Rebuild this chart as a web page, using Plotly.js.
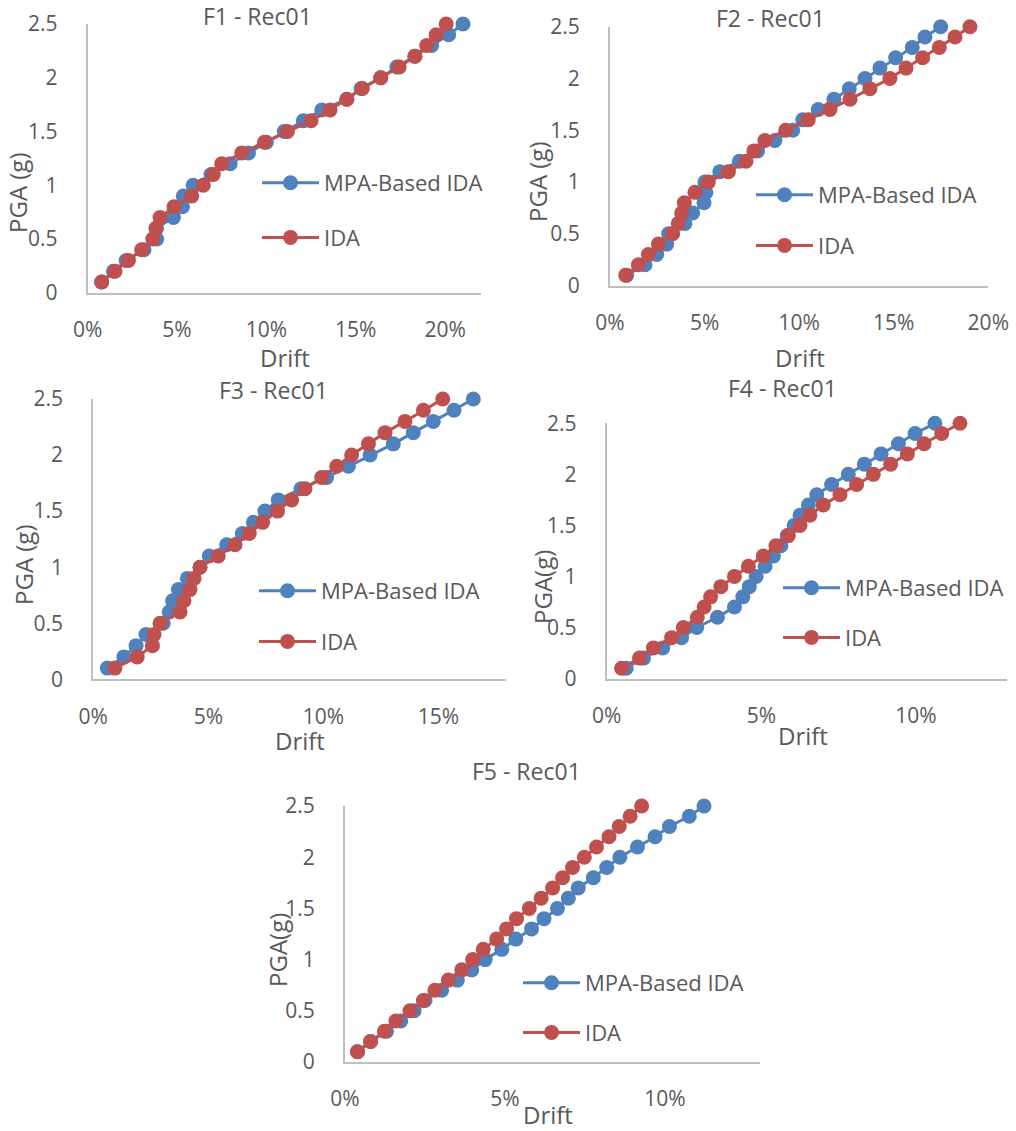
<!DOCTYPE html>
<html>
<head>
<meta charset="utf-8">
<script src="https://cdn.plot.ly/plotly-3.0.1.min.js"></script>
<style>html,body{margin:0;padding:0;background:#fff;}#chart{width:1016px;height:1131px;}</style>
</head>
<body>
<div id="chart"></div>
<script>
// PGA levels (g)
const pga = [0.1,0.2,0.3,0.4,0.5,0.6,0.7,0.8,0.9,1.0,1.1,1.2,1.3,1.4,1.5,1.6,1.7,1.8,1.9,2.0,2.1,2.2,2.3,2.4,2.5];

// Drift (%) per frame
const f1Mpa = [0.78,1.44,2.15,3.15,3.86,3.85,4.8,5.3,5.35,5.9,6.9,7.97,9.0,10.0,11.0,12.07,13.1,14.5,15.3,16.4,17.3,18.3,19.25,20.2,21.0];
const f1Ida = [0.78,1.53,2.28,3.02,3.64,3.82,4.05,4.83,5.82,6.47,7.03,7.5,8.62,9.89,11.18,12.5,13.56,14.5,15.37,16.4,17.43,18.32,18.97,19.5,20.06];

const f2Mpa = [0.88,1.85,2.47,3.0,3.1,3.96,4.37,4.97,5.07,5.02,5.81,6.84,7.8,8.72,9.66,10.19,11.01,11.84,12.65,13.48,14.27,15.1,15.98,16.65,17.48];
const f2Ida = [0.83,1.5,2.03,2.56,3.31,3.61,3.79,3.93,4.49,5.2,6.26,7.19,7.61,8.19,9.29,10.48,11.63,12.69,13.74,14.8,15.65,16.53,17.41,18.24,19.03];

const f3Mpa = [0.61,1.33,1.86,2.29,3.04,3.3,3.45,3.7,4.09,4.64,5.04,5.8,6.48,6.96,7.46,8.04,9.03,10.14,11.09,12.03,13.04,13.91,14.78,15.68,16.52];
const f3Ida = [0.94,1.91,2.57,2.64,2.9,3.77,3.94,4.2,4.38,4.64,5.43,6.16,6.78,7.36,8.01,8.62,9.2,9.93,10.58,11.23,11.96,12.68,13.55,14.35,15.19];

const f4Mpa = [0.63,1.19,1.81,2.42,2.91,3.58,4.13,4.4,4.61,4.83,5.12,5.39,5.63,5.84,6.06,6.25,6.52,6.79,7.27,7.81,8.33,8.87,9.43,9.97,10.61];
const f4Ida = [0.48,1.06,1.51,2.1,2.48,2.93,3.15,3.36,3.69,4.13,4.58,5.06,5.47,5.87,6.25,6.57,7.0,7.54,8.08,8.62,9.18,9.72,10.26,10.83,11.42];

const f5Mpa = [0.39,0.8,1.3,1.74,2.16,2.5,3.02,3.51,3.96,4.38,4.9,5.34,5.83,6.22,6.64,6.98,7.29,7.76,8.18,8.59,9.14,9.69,10.14,10.76,11.22];
const f5Ida = [0.39,0.8,1.23,1.59,2.03,2.45,2.81,3.23,3.65,3.99,4.32,4.74,5.05,5.36,5.76,6.13,6.49,6.8,7.11,7.48,7.86,8.25,8.57,8.91,9.27];

const panelTitles = ['F1 - Rec01','F2 - Rec01','F3 - Rec01','F4 - Rec01','F5 - Rec01'];
const yTitles = ['PGA (g)','PGA (g)','PGA (g)','PGA(g)','PGA(g)'];
const xTitle = 'Drift';
const seriesNames = ['MPA-Based IDA','IDA'];

const W = 1016, H = 1131;
const BLUE = '#4F81BD', RED = '#C0504D', TXT = '#595959', AX = '#BFBFBF';
const FONT = 'Open Sans, Segoe UI, sans-serif';

// panel pixel geometry: [x0px, x1px, xmax%, yBottomPx, yTopPx]
const geo = [
  [87.7, 481, 22.01, 292.7, 24],
  [610, 988.3, 20, 285.5, 26.7],
  [93.3, 506, 17.94, 679.3, 399],
  [606.7, 1007.3, 12.95, 678.5, 423.3],
  [345, 760, 12.97, 1062, 806]
];
// title / axis-title / legend positions (px)
const titlePos = [[257,16],[770,18],[273,390],[782,388],[526,771]];
const xtPos = [[285,357],[800,358],[300,740],[803,735],[548,1114]];
const ytPos = [[18,193],[537,182],[23,565],[542,587],[277,950]];
const legPos = [[262,183],[756,195],[259,591],[783,588],[523,983]];
const legGap = [55,51,51,50,50];

const series = [[f1Mpa,f1Ida],[f2Mpa,f2Ida],[f3Mpa,f3Ida],[f4Mpa,f4Ida],[f5Mpa,f5Ida]];

const data = [];
const layout = {
  width: W, height: H,
  margin: {l:0,r:0,t:0,b:0},
  paper_bgcolor: '#fff', plot_bgcolor: 'rgba(0,0,0,0)',
  font: {family: FONT, color: TXT},
  annotations: [],
  showlegend: true
};

series.forEach((s, i) => {
  const n = i + 1;
  const xa = 'x' + (n === 1 ? '' : n), ya = 'y' + (n === 1 ? '' : n);
  const lg = 'legend' + (n === 1 ? '' : n);
  [0,1].forEach(k => {
    data.push({
      type: 'scatter', mode: 'lines+markers',
      x: s[k], y: pga, xaxis: xa, yaxis: ya,
      name: seriesNames[k], legend: lg, legendgroup: 'g' + n + k,
      cliponaxis: false,
      line: {color: k === 0 ? BLUE : RED, width: 3},
      marker: {color: k === 0 ? BLUE : RED, size: 15}
    });
  });
  const g = geo[i];
  layout['xaxis' + (n === 1 ? '' : n)] = {
    domain: [g[0] / W, g[1] / W], range: [0, g[2]], anchor: ya,
    dtick: 5, tick0: 0, ticksuffix: '%', showgrid: false, zeroline: false,
    showline: true, linecolor: AX, linewidth: 2, ticks: '',
    ticklabelstandoff: 17, tickfont: {size: 21, color: TXT, family: FONT}, fixedrange: true
  };
  layout['yaxis' + (n === 1 ? '' : n)] = {
    domain: [1 - g[3] / H, 1 - g[4] / H], range: [0, 2.5], anchor: xa,
    dtick: 0.5, tick0: 0, showgrid: false, zeroline: false,
    showline: true, linecolor: AX, linewidth: 2, ticks: '',
    ticklabelstandoff: 24, tickfont: {size: 21, color: TXT, family: FONT}, fixedrange: true
  };
  layout[lg] = {
    x: (legPos[i][0] - 5) / W, y: 1 - (legPos[i][1] - 21) / H,
    xanchor: 'left', yanchor: 'top', bgcolor: 'rgba(0,0,0,0)',
    font: {size: 22, color: TXT, family: FONT},
    tracegroupgap: legGap[i] - 32, itemwidth: 57, traceorder: 'grouped'
  };
  layout.annotations.push(
    {text: panelTitles[i], x: titlePos[i][0] / W, y: 1 - titlePos[i][1] / H, xref: 'paper', yref: 'paper',
     showarrow: false, xanchor: 'center', yanchor: 'middle', font: {size: 23, color: TXT, family: FONT}},
    {text: xTitle, x: xtPos[i][0] / W, y: 1 - xtPos[i][1] / H, xref: 'paper', yref: 'paper',
     showarrow: false, xanchor: 'center', yanchor: 'middle', font: {size: 24, color: TXT, family: FONT}},
    {text: yTitles[i], x: ytPos[i][0] / W, y: 1 - ytPos[i][1] / H, xref: 'paper', yref: 'paper', textangle: -90,
     showarrow: false, xanchor: 'center', yanchor: 'middle', font: {size: 24, color: TXT, family: FONT}}
  );
});

Plotly.newPlot('chart', data, layout, {staticPlot: true, displayModeBar: false});
</script>
</body>
</html>
